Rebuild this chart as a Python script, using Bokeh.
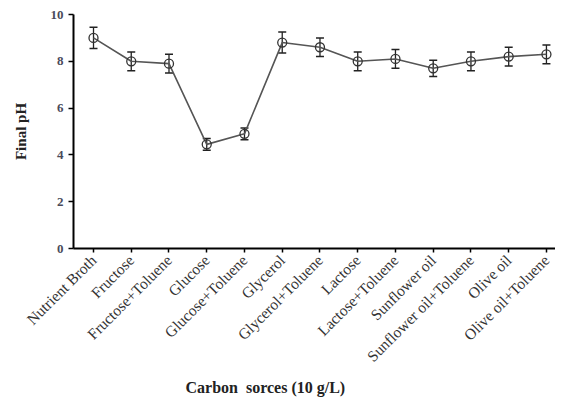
import math
from bokeh.plotting import figure
from bokeh.models import FixedTicker, Whisker, ColumnDataSource, Range1d, Title
from bokeh.embed import file_html
from bokeh.resources import INLINE

categories = ["Nutrient Broth", "Fructose", "Fructose+Toluene", "Glucose", "Glucose+Toluene",
              "Glycerol", "Glycerol+Toluene", "Lactose", "Lactose+Toluene", "Sunflower oil",
              "Sunflower oil+Toluene", "Olive oil", "Olive oil+Toluene"]
final_ph = [9.0, 8.0, 7.9, 4.45, 4.9, 8.8, 8.6, 8.0, 8.1, 7.7, 8.0, 8.2, 8.3]
errors = [0.45, 0.4, 0.4, 0.25, 0.25, 0.45, 0.4, 0.4, 0.4, 0.35, 0.4, 0.4, 0.4]
y_ticks = [0, 2, 4, 6, 8, 10]

xs = list(range(len(categories)))
src = ColumnDataSource(dict(
    x=xs, y=final_ph,
    lower=[v - e for v, e in zip(final_ph, errors)],
    upper=[v + e for v, e in zip(final_ph, errors)],
))

p = figure(width=555, height=398, output_backend="svg", toolbar_location=None,
           x_range=Range1d(-0.53, 12.24), y_range=Range1d(0, 10),
           min_border_left=73, min_border_right=0, min_border_top=14, min_border_bottom=150)
p.outline_line_color = None
p.xgrid.visible = False
p.ygrid.visible = False

p.line("x", "y", source=src, line_color="#555555", line_width=1.6)
w = Whisker(base="x", lower="lower", upper="upper", source=src,
            line_color="#222222", line_width=1.3)
for h in (w.upper_head, w.lower_head):
    h.size = 8
    h.line_color = "#222222"
    h.line_width = 1.5
p.add_layout(w)
p.scatter("x", "y", source=src, marker="circle", size=9, fill_alpha=0,
          line_color="#333333", line_width=1.3)

# x axis
p.xaxis.ticker = FixedTicker(ticks=xs)
p.xaxis.major_label_overrides = {i: c for i, c in enumerate(categories)}
p.xaxis.major_label_orientation = math.pi / 4
p.xaxis.major_label_text_font = "Liberation Serif"
p.xaxis.major_label_text_font_size = "15.5px"
p.xaxis.major_label_text_color = "#333333"
p.xaxis.minor_tick_line_color = None
p.xaxis.axis_line_width = 2
p.xaxis.axis_line_color = "black"
p.xaxis.major_tick_line_color = "black"
p.xaxis.major_tick_line_width = 1.5
p.xaxis.major_tick_in = 0
p.xaxis.major_tick_out = 4

# y axis
p.yaxis.ticker = FixedTicker(ticks=y_ticks)
p.yaxis.major_label_text_font = "Liberation Serif"
p.yaxis.major_label_text_font_style = "bold"
p.yaxis.major_label_text_font_size = "13px"
p.yaxis.major_label_text_color = "#4a4a5a"
p.yaxis.minor_tick_line_color = None
p.yaxis.axis_line_width = 2
p.yaxis.axis_line_color = "black"
p.yaxis.major_tick_line_color = "black"
p.yaxis.major_tick_line_width = 1.5
p.yaxis.major_tick_in = 0
p.yaxis.major_tick_out = 5
p.yaxis.axis_label = "Final pH"
p.yaxis.axis_label_text_font = "Liberation Serif"
p.yaxis.axis_label_text_font_style = "bold"
p.yaxis.axis_label_text_font_size = "15px"
p.yaxis.axis_label_text_color = "#222222"
p.yaxis.axis_label_standoff = 19

xtitle = Title(text="Carbon\u00a0\u00a0sorces (10 g/L)", align="left", offset=112,
               text_font="Liberation Serif", text_font_style="bold",
               text_font_size="16px", text_color="#222222", standoff=6)
p.add_layout(xtitle, "below")

open("out.html", "w").write(file_html(p, INLINE))
